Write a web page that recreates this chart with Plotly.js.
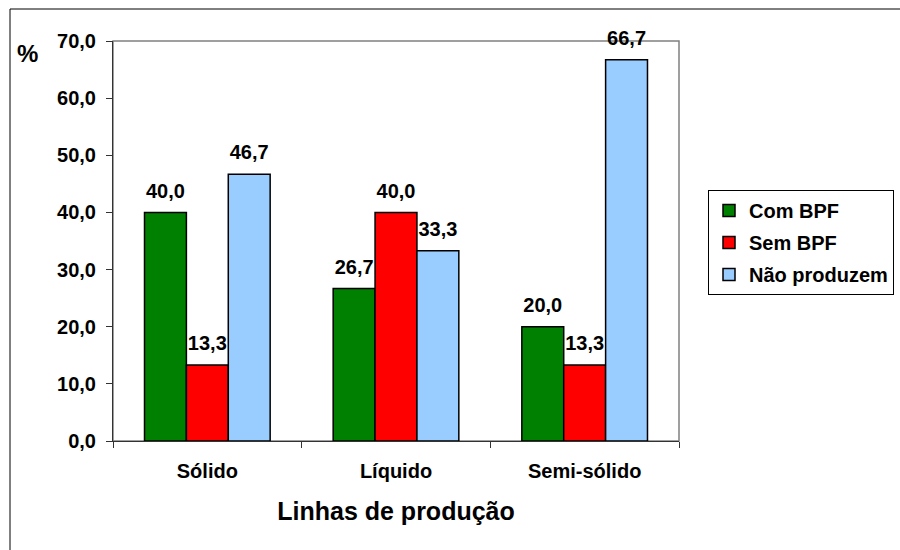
<!DOCTYPE html>
<html>
<head>
<meta charset="utf-8">
<script src="https://cdn.plot.ly/plotly-3.0.1.min.js"></script>
<style>
  html, body { margin: 0; padding: 0; background: #ffffff; }
  #chart { width: 900px; height: 550px; }
</style>
</head>
<body>
<div id="chart"></div>
<script>
// Linhas de produção: percentual por situação de BPF
const categories = ['Sólido', 'Líquido', 'Semi-sólido'];
const comBPF = [40.0, 26.7, 20.0];
const semBPF = [13.3, 40.0, 13.3];
const naoProduzem = [46.7, 33.3, 66.7];
const seriesNames = ['Com BPF', 'Sem BPF', 'Não produzem'];
const yTickValues = [0, 10, 20, 30, 40, 50, 60, 70];

const seriesValues = [comBPF, semBPF, naoProduzem];
const seriesColors = ['#008000', '#FF0000', '#99CCFF'];

const FONT = 'Liberation Sans, Arial, sans-serif';
const fmt = v => v.toFixed(1).replace('.', ',');

const traces = [];
// bars
seriesValues.forEach((vals, i) => {
  traces.push({
    type: 'bar',
    name: seriesNames[i],
    x: categories,
    y: vals,
    offsetgroup: String(i),
    legendgroup: 'g' + i,
    marker: { color: seriesColors[i], line: { color: '#000000', width: 1.5 } },
    hoverinfo: 'skip'
  });
});
// value labels above each bar
seriesValues.forEach((vals, i) => {
  traces.push({
    type: 'scatter',
    mode: 'markers+text',
    x: categories,
    y: vals,
    offsetgroup: String(i),
    text: vals.map(fmt),
    textposition: 'top center',
    textfont: { family: FONT, size: 20, weight: 700, color: '#000000' },
    marker: { size: 14, opacity: 0 },
    cliponaxis: false,
    showlegend: false,
    hoverinfo: 'skip'
  });
});

const L = 113, R = 221, T = 41, B = 109;
const W = 900 - L - R, H = 550 - T - B;
const px = x => (x - L) / W;
const py = y => (550 - B - y) / H;

const layout = {
  width: 900,
  height: 550,
  margin: { l: L, r: R, t: T, b: B, pad: 0, autoexpand: false },
  paper_bgcolor: '#ffffff',
  plot_bgcolor: '#ffffff',
  barmode: 'group',
  bargap: 0.334,
  bargroupgap: 0,
  scattermode: 'group',
  scattergap: 0.334,
  hovermode: false,
  separators: ',.',
  font: { family: FONT, size: 20, weight: 700, color: '#000000' },
  xaxis: {
    type: 'category',
    showgrid: false,
    zeroline: false,
    showline: true,
    linecolor: '#333333',
    linewidth: 1,
    ticks: 'outside',
    tickson: 'boundaries',
    ticklen: 6,
    tickcolor: '#333333',
    ticklabelstandoff: 12,
    tickfont: { family: FONT, size: 20, weight: 700, color: '#000000' },
    title: { text: 'Linhas de produção', font: { family: FONT, size: 25, weight: 700, color: '#000000' }, standoff: 21 }
  },
  yaxis: {
    range: [0, 70],
    tickvals: yTickValues,
    tickformat: '.1f',
    showgrid: false,
    zeroline: false,
    showline: true,
    linecolor: '#333333',
    linewidth: 1,
    ticks: 'outside',
    ticklen: 6,
    tickcolor: '#333333',
    ticklabelstandoff: 6,
    tickfont: { family: FONT, size: 20, weight: 700, color: '#000000' }
  },
  legend: {
    x: px(708), y: py(190), xanchor: 'left', yanchor: 'top',
    bgcolor: '#ffffff',
    bordercolor: '#000000',
    borderwidth: 1,
    tracegroupgap: 3,
    itemwidth: 30,
    font: { family: FONT, size: 20, weight: 700, color: '#000000' }
  },
  annotations: [{
    text: '%', xref: 'paper', yref: 'paper',
    x: px(27), y: py(53), xanchor: 'center', yanchor: 'middle',
    showarrow: false,
    font: { family: FONT, size: 24, weight: 700, color: '#000000' }
  }],
  shapes: [
    // plot area border
    { type: 'rect', xref: 'paper', yref: 'paper', x0: 0, x1: 1, y0: 0, y1: 1,
      line: { color: '#808080', width: 1.5 }, layer: 'below' },
    // chart frame
    { type: 'rect', xref: 'paper', yref: 'paper',
      x0: px(10), x1: px(960), y0: py(600), y1: py(9),
      line: { color: '#000000', width: 1 }, layer: 'below' }
  ]
};

Plotly.newPlot('chart', traces, layout, { displayModeBar: false, staticPlot: true });
</script>
</body>
</html>
